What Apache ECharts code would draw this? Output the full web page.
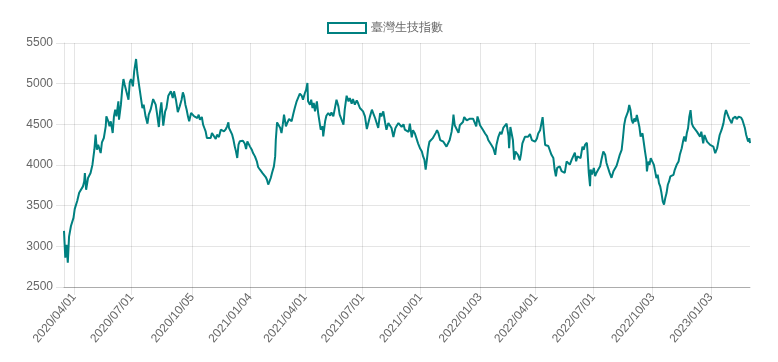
<!DOCTYPE html>
<html><head><meta charset="utf-8">
<script src="https://cdn.jsdelivr.net/npm/echarts@6/dist/echarts.min.js"></script>
<style>html,body{margin:0;padding:0;background:#fff}#c{width:778px;height:362px}</style>
</head><body><div id="c"></div>
<script>
const seriesName = '臺灣生技指數';
const tickLabels = ['2020/04/01','2020/07/01','2020/10/05','2021/01/04','2021/04/01','2021/07/01','2021/10/01','2022/01/03','2022/04/01','2022/07/01','2022/10/03','2023/01/03'];
const dates = [
'2020-03-16','2020-03-18','2020-03-20','2020-03-22','2020-03-24','2020-03-27','2020-03-31','2020-04-02','2020-04-06','2020-04-09',
'2020-04-15','2020-04-17','2020-04-18','2020-04-20','2020-04-23','2020-04-27','2020-04-30','2020-05-03','2020-05-05','2020-05-07',
'2020-05-09','2020-05-11','2020-05-13','2020-05-15','2020-05-18','2020-05-21','2020-05-22','2020-05-25','2020-05-27','2020-05-29',
'2020-06-01','2020-06-03','2020-06-05','2020-06-07','2020-06-10','2020-06-11','2020-06-14','2020-06-16','2020-06-18','2020-06-20',
'2020-06-23','2020-06-26','2020-06-28','2020-06-30','2020-07-03','2020-07-05','2020-07-08','2020-07-10','2020-07-13','2020-07-16',
'2020-07-18','2020-07-20','2020-07-23','2020-07-26','2020-07-28','2020-07-31','2020-08-04','2020-08-08','2020-08-10','2020-08-13',
'2020-08-15','2020-08-17','2020-08-20','2020-08-23','2020-08-25','2020-08-28','2020-09-01','2020-09-04','2020-09-06','2020-09-09',
'2020-09-12','2020-09-15','2020-09-18','2020-09-20','2020-09-22','2020-09-24','2020-09-26','2020-09-28','2020-09-30','2020-10-03',
'2020-10-05','2020-10-08','2020-10-10','2020-10-13','2020-10-15','2020-10-17','2020-10-20','2020-10-22','2020-10-24','2020-10-26',
'2020-10-28','2020-10-31','2020-11-03','2020-11-05','2020-11-08','2020-11-11','2020-11-13','2020-11-16','2020-11-19','2020-11-21',
'2020-11-24','2020-11-27','2020-11-29','2020-12-01','2020-12-02','2020-12-05','2020-12-07','2020-12-09','2020-12-11','2020-12-13',
'2020-12-15','2020-12-17','2020-12-19','2020-12-22','2020-12-24','2020-12-27','2020-12-29','2020-12-31','2021-01-02','2021-01-04',
'2021-01-07','2021-01-09','2021-01-12','2021-01-15','2021-01-17','2021-01-20','2021-01-22','2021-01-24','2021-01-27','2021-01-29',
'2021-01-31','2021-02-02','2021-02-04','2021-02-06','2021-02-08','2021-02-11','2021-02-13','2021-02-14','2021-02-16','2021-02-18',
'2021-02-21','2021-02-23','2021-02-25','2021-02-27','2021-03-02','2021-03-04','2021-03-07','2021-03-11','2021-03-14','2021-03-16',
'2021-03-19','2021-03-22','2021-03-24','2021-03-27','2021-03-29','2021-04-01','2021-04-03','2021-04-05','2021-04-06','2021-04-09',
'2021-04-11','2021-04-13','2021-04-15','2021-04-17','2021-04-20','2021-04-22','2021-04-24','2021-04-26','2021-04-29','2021-04-30',
'2021-05-03','2021-05-05','2021-05-08','2021-05-11','2021-05-13','2021-05-16','2021-05-19','2021-05-21','2021-05-24','2021-05-26',
'2021-05-29','2021-06-01','2021-06-03','2021-06-06','2021-06-09','2021-06-11','2021-06-14','2021-06-16','2021-06-19','2021-06-22',
'2021-06-24','2021-06-27','2021-06-30','2021-07-02','2021-07-05','2021-07-08','2021-07-10','2021-07-13','2021-07-16','2021-07-18',
'2021-07-21','2021-07-24','2021-07-26','2021-07-29','2021-07-31','2021-08-03','2021-08-06','2021-08-08','2021-08-11','2021-08-14',
'2021-08-16','2021-08-19','2021-08-22','2021-08-24','2021-08-27','2021-08-29','2021-09-01','2021-09-04','2021-09-06','2021-09-09',
'2021-09-12','2021-09-14','2021-09-17','2021-09-19','2021-09-22','2021-09-25','2021-09-27','2021-09-30','2021-10-03','2021-10-05',
'2021-10-07','2021-10-09','2021-10-11','2021-10-13','2021-10-15','2021-10-17','2021-10-20','2021-10-23','2021-10-25','2021-10-27',
'2021-10-29','2021-11-01','2021-11-03','2021-11-06','2021-11-09','2021-11-11','2021-11-14','2021-11-16','2021-11-19','2021-11-21',
'2021-11-22','2021-11-24','2021-11-27','2021-11-30','2021-12-02','2021-12-05','2021-12-07','2021-12-09','2021-12-11','2021-12-13',
'2021-12-15','2021-12-18','2021-12-21','2021-12-23','2021-12-26','2021-12-28','2021-12-30','2022-01-01','2022-01-03','2022-01-06',
'2022-01-08','2022-01-11','2022-01-14','2022-01-16','2022-01-19','2022-01-21','2022-01-24','2022-01-27','2022-01-29','2022-02-01',
'2022-02-04','2022-02-06','2022-02-09','2022-02-11','2022-02-14','2022-02-17','2022-02-18','2022-02-20','2022-02-22','2022-02-24',
'2022-02-26','2022-02-28','2022-03-02','2022-03-04','2022-03-07','2022-03-09','2022-03-11','2022-03-13','2022-03-15','2022-03-18',
'2022-03-20','2022-03-23','2022-03-26','2022-03-28','2022-03-31','2022-04-03','2022-04-05','2022-04-08','2022-04-10','2022-04-12',
'2022-04-14','2022-04-16','2022-04-18','2022-04-21','2022-04-24','2022-04-26','2022-04-29','2022-05-01','2022-05-03','2022-05-05',
'2022-05-07','2022-05-09','2022-05-12','2022-05-15','2022-05-17','2022-05-20','2022-05-23','2022-05-25','2022-05-28','2022-05-30',
'2022-06-02','2022-06-04','2022-06-06','2022-06-09','2022-06-11','2022-06-14','2022-06-16','2022-06-18','2022-06-21','2022-06-22',
'2022-06-24','2022-06-26','2022-06-27','2022-06-29','2022-07-02','2022-07-04','2022-07-06','2022-07-09','2022-07-12','2022-07-14',
'2022-07-17','2022-07-20','2022-07-22','2022-07-25','2022-07-27','2022-07-30','2022-08-02','2022-08-04','2022-08-07','2022-08-10',
'2022-08-12','2022-08-15','2022-08-17','2022-08-19','2022-08-21','2022-08-23','2022-08-25','2022-08-27','2022-08-29','2022-08-31',
'2022-09-02','2022-09-04','2022-09-06','2022-09-08','2022-09-10','2022-09-12','2022-09-14','2022-09-17','2022-09-19','2022-09-21',
'2022-09-23','2022-09-24','2022-09-26','2022-09-28','2022-09-30','2022-10-02','2022-10-05','2022-10-07','2022-10-09','2022-10-11',
'2022-10-13','2022-10-15','2022-10-17','2022-10-19','2022-10-21','2022-10-23','2022-10-25','2022-10-27','2022-10-29','2022-10-31',
'2022-11-02','2022-11-05','2022-11-07','2022-11-10','2022-11-13','2022-11-15','2022-11-18','2022-11-20','2022-11-22','2022-11-24',
'2022-11-26','2022-11-28','2022-11-30','2022-12-02','2022-12-04','2022-12-06','2022-12-09','2022-12-12','2022-12-14','2022-12-17',
'2022-12-19','2022-12-22','2022-12-24','2022-12-26','2022-12-28','2022-12-30','2023-01-02','2023-01-04','2023-01-07','2023-01-10',
'2023-01-11','2023-01-13','2023-01-15','2023-01-17','2023-01-20','2023-01-23','2023-01-25','2023-01-27','2023-01-30','2023-02-01',
'2023-02-03','2023-02-05','2023-02-07','2023-02-09','2023-02-11','2023-02-13','2023-02-16','2023-02-18','2023-02-20','2023-02-22',
'2023-02-24','2023-02-26','2023-02-28','2023-03-03','2023-03-05','2023-03-06'
];
const values = [
3190,2860,3020,2800,3120,3250,3350,3460,3560,3660,
3737,3800,3901,3696,3840,3901,4004,4188,4373,4188,
4250,4229,4147,4278,4332,4475,4598,4537,4475,4537,
4393,4598,4680,4598,4783,4557,4742,4926,5057,4988,
5008,4803,5016,5057,4967,5152,5303,5131,4967,4959,
4700,4742,4598,4508,4619,4680,4811,4742,4639,4467,
4660,4770,4483,4660,4700,4852,4906,4824,4906,4803,
4650,4721,4803,4893,4844,4742,4680,4598,4537,4639,
4660,4598,4606,4578,4619,4557,4590,4496,4455,4414,
4332,4319,4332,4393,4414,4319,4373,4344,4434,4455,
4414,4442,4475,4524,4455,4434,4373,4311,4229,4168,
4086,4250,4291,4270,4299,4262,4196,4291,4311,4229,
4188,4147,4106,4045,3975,3942,3963,3901,3922,3852,
3819,3760,3799,3840,3901,3983,4106,4311,4524,4516,
4455,4393,4496,4619,4475,4516,4565,4537,4639,4701,
4783,4762,4877,4852,4803,4885,4926,5008,4783,4742,
4803,4701,4762,4660,4783,4639,4619,4434,4475,4352,
4537,4606,4639,4606,4647,4598,4721,4803,4721,4619,
4598,4496,4680,4852,4783,4824,4754,4811,4742,4795,
4762,4701,4680,4660,4598,4442,4442,4598,4680,4639,
4578,4598,4455,4639,4598,4660,4516,4434,4516,4496,
4455,4344,4450,4480,4516,4508,4468,4500,4436,4448,
4407,4508,4339,4427,4387,4367,4266,4206,4166,4105,
4065,3944,4065,4206,4286,4307,4327,4315,4395,4427,
4395,4307,4298,4286,4266,4226,4234,4307,4407,4528,
4621,4488,4468,4395,4488,4468,4528,4589,4609,4548,
4569,4569,4556,4569,4548,4476,4597,4548,4488,4468,
4427,4387,4355,4307,4327,4246,4206,4125,4246,4347,
4407,4379,4460,4440,4508,4360,4206,4468,4448,4307,
4065,4166,4186,4125,4057,4145,4266,4307,4347,4367,
4347,4379,4307,4315,4286,4327,4387,4427,4508,4589,
4407,4246,4234,4234,4226,4125,4085,3944,3860,3964,
3944,3984,3924,3944,3903,4045,4025,4004,4065,4045,
4153,4045,4105,4125,4085,4226,4186,4246,4274,4166,
3903,3740,3944,3883,3964,3863,3903,3944,3984,4065,
4166,4125,4025,4004,3903,3843,3924,3940,3990,4070,
4125,4186,4329,4492,4573,4594,4655,4737,4675,4553,
4512,4573,4533,4614,4594,4471,4349,4390,4369,4165,
4063,3921,4043,4002,4084,4092,4002,3982,3839,3880,
3778,3737,3655,3553,3513,3594,3655,3757,3798,3859,
3859,3880,3941,4002,4043,4125,4206,4288,4349,4288,
4390,4451,4594,4675,4512,4471,4471,4410,4431,4349,
4410,4267,4369,4329,4288,4267,4247,4247,4227,4145,
4125,4206,4288,4369,4431,4512,4614,4675,4614,4573,
4594,4512,4573,4553,4594,4565,4594,4573,4582,4553,
4533,4451,4369,4288,4329,4270
];
function toTs(s){const p=s.split(/[-\/]/).map(Number);return new Date(p[0],p[1]-1,p[2]).getTime();}
const tickValues = tickLabels.map(toTs);
const FONT = "'Helvetica Neue', Helvetica, Arial, sans-serif";
const gridColor = 'rgba(0,0,0,0.1)';
function fmtDate(v){const d=new Date(v);return d.getFullYear()+'/'+String(d.getMonth()+1).padStart(2,'0')+'/'+String(d.getDate()).padStart(2,'0');}
const chart = echarts.init(document.getElementById('c'), null, {renderer:'canvas'});
chart.setOption({
  animation:false,
  textStyle:{fontFamily:FONT},
  legend:{top:22, left:327, padding:0, icon:'rect', itemWidth:38, itemHeight:10, itemGap:10,
    textStyle:{color:'#666', fontSize:12, fontFamily:FONT},
    itemStyle:{color:'#fff', borderColor:'#008080', borderWidth:2}, data:[seriesName]},
  grid:{left:64, right:28, top:43, bottom:75},
  xAxis:{type:'value', min:toTs('2020-03-16'), max:toTs('2023-03-06'), scale:true,
    axisLine:{lineStyle:{color:'rgba(0,0,0,0.25)'}},
    axisTick:{show:true, length:8, lineStyle:{color:gridColor}, customValues:tickValues},
    axisLabel:{customValues:tickValues, rotate:50, color:'#666', fontSize:12, margin:8, fontFamily:FONT, formatter:fmtDate},
    splitLine:{show:true, lineStyle:{color:gridColor}}},
  yAxis:{type:'value', min:2500, max:5500, interval:500,
    axisLine:{show:true, lineStyle:{color:gridColor}},
    axisTick:{show:true, length:8, lineStyle:{color:gridColor}},
    axisLabel:{color:'#666', fontSize:12, margin:11, fontFamily:FONT, formatter:function(v){return String(v);}},
    splitLine:{lineStyle:{color:gridColor}}},
  series:[{name:seriesName, type:'line', data:dates.map(function(d,i){return [toTs(d), values[i]];}),
    showSymbol:false, symbol:'none', lineStyle:{color:'#008080', width:2}, itemStyle:{color:'#008080'}}]
});
</script></body></html>
